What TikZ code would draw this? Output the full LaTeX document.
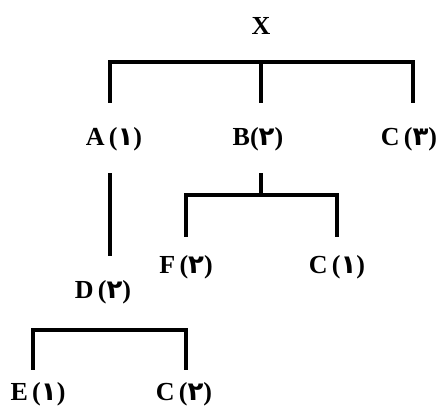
\documentclass[tikz,border=0pt]{standalone}
\usepackage{fontspec}
\setmainfont{Liberation Serif}
\newfontfamily\fadigits[Script=Arabic]{DejaVu Sans}
\newcommand{\fa}[1]{{\fadigits\bfseries #1}}
\usetikzlibrary{positioning}

\begin{document}
\begin{tikzpicture}[x=1pt, y=1pt,
    term/.style={inner sep=0pt, font=\fontsize{26}{31}\selectfont\bfseries},
    branch/.style={line width=3.2pt, line join=miter, line cap=rect},
  ]
  \useasboundingbox (0,0) rectangle (441,411);

  % nodes
  \node[term] (x)  at (261,385) {X};
  \node[term] (a)  at (114,272) {A\,(\fa{۱})};
  \node[term] (b)  at (258,272) {B(\fa{۲})};
  \node[term] (c3) at (409,272) {C\,(\fa{۳})};
  \node[term] (f)  at (186,144) {F\,(\fa{۲})};
  \node[term] (c1) at (337,144) {C\,(\fa{۱})};
  \node[term] (d)  at (103,119) {D\,(\fa{۲})};
  \node[term] (e)  at (38,17)   {E\,(\fa{۱})};
  \node[term] (c2) at (184,17)  {C\,(\fa{۲})};

  % levels of the brackets
  \coordinate (topbar) at (0,349);
  \coordinate (toplow) at (0,310);
  \coordinate (bstem)  at (0,236);
  \coordinate (bbar)   at (0,216);
  \coordinate (blow)   at (0,176);
  \coordinate (dlow)   at (0,157);
  \coordinate (dbar)   at (0,81);
  \coordinate (elow)   at (0,43);

  % X
  \draw[branch] ([xshift=-4pt]a |- toplow) -- ([xshift=-4pt]a |- topbar)
    -- ([xshift=4pt]c3 |- topbar) -- ([xshift=4pt]c3 |- toplow);
  \draw[branch] ([xshift=3pt]b |- topbar) -- ([xshift=3pt]b |- toplow);
  % B
  \draw[branch] ([xshift=3pt]b |- bstem) -- ([xshift=3pt]b |- bbar);
  \draw[branch] (f |- blow) -- (f |- bbar) -- (c1 |- bbar) -- (c1 |- blow);
  % A
  \draw[branch] ([xshift=-4pt]a |- bstem) -- ([xshift=-4pt]a |- dlow);
  % D
  \draw[branch] ([xshift=-5pt]e |- elow) -- ([xshift=-5pt]e |- dbar)
    -- ([xshift=2pt]c2 |- dbar) -- ([xshift=2pt]c2 |- elow);
\end{tikzpicture}
\end{document}
